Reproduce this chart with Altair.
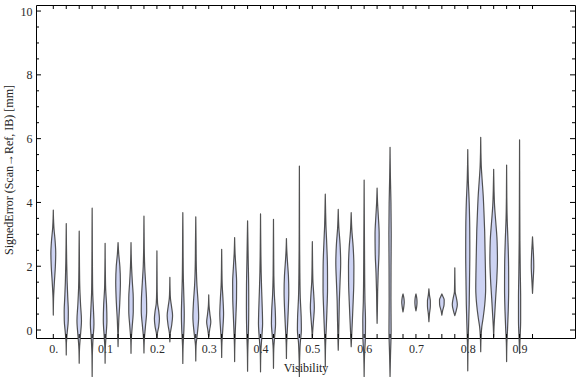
import altair as alt
import pandas as pd

# ---- data ----
visibility = [0.0, 0.025, 0.05, 0.075, 0.1, 0.125, 0.15, 0.175, 0.2, 0.225,
              0.25, 0.275, 0.3, 0.325, 0.35, 0.375, 0.4, 0.425, 0.45, 0.475,
              0.5, 0.525, 0.55, 0.575, 0.6, 0.625, 0.65, 0.675, 0.7, 0.725,
              0.75, 0.775, 0.8, 0.825, 0.85, 0.875, 0.9, 0.925]

# signed error knots (mm) for each violin profile
violin_err = [
    [0.47, 1.0, 1.5, 2.0, 2.4, 2.8, 3.2, 3.5, 3.76],
    [-0.78, -0.4, -0.1, 0.3, 0.6, 1.0, 1.5, 2.1, 2.7, 3.34],
    [-1.04, -0.6, -0.2, 0.3, 0.8, 1.3, 2.0, 2.6, 3.1],
    [-1.46, -0.8, -0.3, 0.2, 0.6, 1.2, 2.0, 3.0, 3.82],
    [-1.04, -0.6, -0.2, 0.3, 0.8, 1.3, 2.0, 2.72],
    [-0.52, -0.1, 0.3, 0.8, 1.5, 2.0, 2.4, 2.74],
    [-0.73, -0.3, 0.1, 0.6, 1.0, 1.5, 2.0, 2.4, 2.74],
    [-0.72, -0.3, 0.1, 0.6, 1.0, 1.5, 2.0, 2.6, 3.1, 3.57],
    [-0.26, -0.1, 0.1, 0.35, 0.6, 0.85, 1.2, 1.8, 2.48],
    [-0.37, -0.1, 0.15, 0.45, 0.75, 1.0, 1.3, 1.65],
    [-1.05, -0.5, 0.0, 0.5, 1.0, 1.6, 2.4, 3.0, 3.68],
    [-0.97, -0.5, -0.1, 0.4, 0.9, 1.4, 2.0, 2.8, 3.55],
    [-0.21, 0.0, 0.25, 0.5, 0.75, 1.1],
    [-0.86, -0.4, 0.0, 0.5, 1.0, 1.4, 2.0, 2.53],
    [-0.99, -0.5, 0.0, 0.5, 1.0, 1.5, 2.0, 2.4, 2.9],
    [-1.29, -0.6, 0.0, 0.7, 1.4, 2.2, 2.9, 3.42],
    [-1.31, -0.7, -0.2, 0.2, 0.6, 1.2, 1.8, 2.6, 3.64],
    [-1.2, -0.6, -0.2, 0.2, 0.6, 1.1, 1.7, 2.5, 3.47],
    [-0.89, -0.4, 0.0, 0.6, 1.2, 1.7, 2.2, 2.5, 2.87],
    [-1.47, -0.9, -0.4, 0.0, 0.4, 1.0, 1.8, 3.0, 4.2, 5.14],
    [-0.26, 0.0, 0.3, 0.7, 1.1, 1.5, 2.0, 2.77],
    [-1.15, -0.5, 0.0, 0.6, 1.3, 2.0, 2.7, 3.3, 3.8, 4.26],
    [-0.63, -0.2, 0.3, 0.9, 1.5, 2.1, 2.7, 3.2, 3.78],
    [-0.52, -0.2, 0.3, 0.9, 1.5, 2.0, 2.6, 3.1, 3.68],
    [-1.46, -0.8, -0.2, 0.3, 0.9, 1.6, 2.5, 3.5, 4.7],
    [0.21, 0.6, 1.2, 1.8, 2.4, 3.0, 3.6, 4.0, 4.45],
    [-1.46, -0.8, 0.0, 1.0, 2.0, 3.0, 4.0, 4.8, 5.73],
    [0.57, 0.75, 0.87, 1.0, 1.13],
    [0.6, 0.75, 0.87, 1.0, 1.13],
    [0.26, 0.5, 0.75, 0.9, 1.1, 1.29],
    [0.47, 0.6, 0.8, 0.95, 1.05, 1.13],
    [0.45, 0.6, 0.8, 1.0, 1.2, 1.6, 1.95],
    [-1.28, -0.6, 0.0, 0.8, 1.6, 2.4, 3.2, 4.0, 4.7, 5.2, 5.66],
    [-0.68, -0.2, 0.1, 0.4, 0.8, 1.3, 1.8, 2.4, 3.1, 3.7, 4.2, 4.7, 5.1, 5.6, 6.04],
    [-0.21, 0.1, 0.5, 1.0, 1.6, 2.2, 2.8, 3.4, 3.9, 4.4, 5.04],
    [-0.99, -0.4, 0.0, 0.6, 1.3, 2.0, 2.8, 3.5, 4.2, 5.17],
    [-0.73, -0.3, 0.3, 1.0, 1.8, 2.8, 4.0, 5.0, 5.96],
    [1.15, 1.5, 2.0, 2.4, 2.7, 2.92],
]

# relative density (violin half-width) at each knot
violin_density = [
    [0, 0.3, 1.2, 2.3, 2.7, 2.0, 0.7, 0.2, 0],
    [0, 0.2, 1.0, 2.2, 2.3, 1.7, 1.0, 0.5, 0.2, 0],
    [0, 0.3, 1.3, 2.5, 1.5, 0.7, 0.3, 0.15, 0],
    [0, 0.2, 0.9, 2.0, 1.5, 0.6, 0.3, 0.15, 0],
    [0, 0.2, 1.0, 2.0, 1.6, 0.6, 0.2, 0],
    [0, 0.3, 0.8, 1.8, 2.6, 2.0, 0.7, 0],
    [0, 0.3, 1.3, 2.5, 2.5, 1.5, 0.6, 0.2, 0],
    [0, 0.4, 1.6, 3.0, 2.8, 1.8, 0.8, 0.3, 0.15, 0],
    [0, 0.6, 2.0, 2.8, 2.0, 0.7, 0.3, 0.15, 0],
    [0, 0.5, 2.0, 3.0, 1.8, 0.6, 0.2, 0],
    [0, 0.3, 1.2, 1.6, 1.2, 0.6, 0.3, 0.2, 0],
    [0, 0.3, 1.8, 3.2, 2.5, 1.3, 0.6, 0.3, 0],
    [0, 1.0, 2.3, 1.3, 0.4, 0],
    [0, 0.3, 1.2, 2.1, 1.4, 0.6, 0.2, 0],
    [0, 0.2, 0.8, 1.5, 2.1, 2.2, 1.3, 0.5, 0],
    [0, 0.3, 1.0, 1.3, 1.2, 0.7, 0.3, 0],
    [0, 0.3, 1.5, 2.3, 2.0, 1.3, 0.7, 0.3, 0],
    [0, 0.3, 1.3, 2.3, 2.0, 1.0, 0.4, 0.2, 0],
    [0, 0.3, 1.0, 2.0, 2.6, 2.2, 1.0, 0.4, 0],
    [0, 0.3, 1.0, 2.2, 2.0, 1.0, 0.5, 0.2, 0.1, 0],
    [0, 0.5, 1.3, 2.2, 1.6, 0.7, 0.3, 0],
    [0, 0.3, 1.0, 1.8, 2.5, 2.4, 1.6, 0.7, 0.3, 0],
    [0, 0.4, 0.8, 1.2, 2.0, 2.7, 2.0, 0.7, 0],
    [0, 0.5, 1.3, 2.2, 2.9, 3.0, 2.2, 0.8, 0],
    [0, 0.4, 1.4, 1.5, 0.9, 0.6, 0.4, 0.2, 0],
    [0, 0.3, 0.6, 1.2, 2.1, 2.3, 1.3, 0.5, 0],
    [0, 0.5, 1.2, 1.0, 1.1, 1.3, 1.0, 0.4, 0],
    [0, 1.0, 1.4, 1.0, 0],
    [0, 0.9, 1.2, 0.9, 0],
    [0, 0.6, 1.6, 1.6, 0.6, 0],
    [0, 0.8, 2.5, 2.6, 1.2, 0],
    [0, 1.5, 2.8, 1.8, 0.4, 0.15, 0],
    [0, 0.2, 0.8, 1.6, 2.0, 2.3, 2.2, 1.6, 0.6, 0.2, 0],
    [0, 0.4, 1.2, 2.8, 4.5, 5.5, 5.3, 4.9, 4.4, 3.6, 2.8, 1.6, 0.7, 0.2, 0],
    [0, 0.4, 1.2, 2.2, 3.5, 4.2, 3.8, 2.3, 1.0, 0.4, 0],
    [0, 0.3, 1.0, 1.8, 2.3, 2.2, 1.5, 0.6, 0.2, 0],
    [0, 0.5, 1.2, 1.2, 0.8, 0.4, 0.2, 0.1, 0],
    [0, 0.6, 1.4, 1.0, 0.4, 0],
]

y_major_ticks = [0, 2, 4, 6, 8, 10]
y_minor_ticks = [0.5, 1, 1.5, 2.5, 3, 3.5, 4.5, 5, 5.5, 6.5, 7, 7.5,
                 8.5, 9, 9.5]

# ---- layout / style ----
W, H = 539, 333
X_DOMAIN = [-0.0334, 1.007]
Y_DOMAIN = [-0.25, 10.19]
# one density unit ~ 0.9 px of half-width (stroke adds the rest)
DENSITY_TO_X = 0.9 * (X_DOMAIN[1] - X_DOMAIN[0]) / W
FILL = "#cdd3f3"
EDGE = "#3f3f3f"
FONT = "Liberation Serif"

rows = []
for i, c in enumerate(visibility):
    for e, d in zip(violin_err[i], violin_density[i]):
        rows.append({"v": i, "err": e,
                     "xl": c - d * DENSITY_TO_X, "xr": c + d * DENSITY_TO_X})
df = pd.DataFrame(rows)

xscale = alt.Scale(domain=X_DOMAIN, nice=False, zero=False)
yscale = alt.Scale(domain=Y_DOMAIN, nice=False, zero=False)

label_expr = ("datum.value == 0 ? '0.' : "
              "(abs(datum.value * 10 - round(datum.value * 10)) < 0.001 ? "
              "format(datum.value, '.1f') : '')")

violins = alt.Chart(df).mark_area(
    orient="horizontal", interpolate="monotone", fill=FILL,
    stroke=EDGE, strokeWidth=1.2, strokeJoin="round", strokeOpacity=0.9
).encode(
    y=alt.Y("err:Q", scale=yscale,
            axis=alt.Axis(values=y_major_ticks, title="SignedError (Scan→Ref, IB) [mm]",
                          ticks=False, tickSize=0, domain=False, grid=False,
                          labelPadding=4, titleX=-28, titleY=H / 2 - 2,
                          titleAngle=270, titleAlign="center",
                          titleBaseline="middle")),
    x=alt.X("xl:Q", scale=xscale,
            axis=alt.Axis(values=visibility, labelExpr=label_expr,
                          title="Visibility", ticks=False, tickSize=0,
                          domain=False, grid=False, labelPadding=5,
                          labelOverlap=False, titlePadding=8)),
    x2="xr:Q",
    detail="v:N",
)

xt = pd.DataFrame({"t": visibility})
ymaj = pd.DataFrame({"t": y_major_ticks})
ymin = pd.DataFrame({"t": y_minor_ticks})

tick_style = dict(color="black", strokeWidth=1)
bottom_ticks = alt.Chart(xt).mark_rule(**tick_style).encode(
    x=alt.X("t:Q", scale=xscale), y=alt.value(H), y2=alt.value(H - 4))
top_ticks = alt.Chart(xt).mark_rule(**tick_style).encode(
    x=alt.X("t:Q", scale=xscale), y=alt.value(0), y2=alt.value(4))
left_major = alt.Chart(ymaj).mark_rule(**tick_style).encode(
    y=alt.Y("t:Q", scale=yscale), x=alt.value(0), x2=alt.value(5))
left_minor = alt.Chart(ymin).mark_rule(**tick_style).encode(
    y=alt.Y("t:Q", scale=yscale), x=alt.value(0), x2=alt.value(3))
right_major = alt.Chart(ymaj).mark_rule(**tick_style).encode(
    y=alt.Y("t:Q", scale=yscale), x=alt.value(W), x2=alt.value(W - 5))
right_minor = alt.Chart(ymin).mark_rule(**tick_style).encode(
    y=alt.Y("t:Q", scale=yscale), x=alt.value(W), x2=alt.value(W - 3))

chart = alt.layer(
    violins, bottom_ticks, top_ticks, left_major, left_minor,
    right_major, right_minor
).properties(
    width=W, height=H,
    autosize=alt.AutoSizeParams(type="none"),
    padding={"left": 36, "top": 5, "right": 1, "bottom": 39},
    background="white",
).configure_view(
    stroke="black", strokeWidth=1
).configure_axis(
    labelFont=FONT, titleFont=FONT, labelFontSize=12, titleFontSize=12,
    labelColor="#2b2b2b", titleColor="#222222", titleFontWeight="normal",
)

chart.save("out.html", embed_options={"renderer": "svg", "actions": False})
